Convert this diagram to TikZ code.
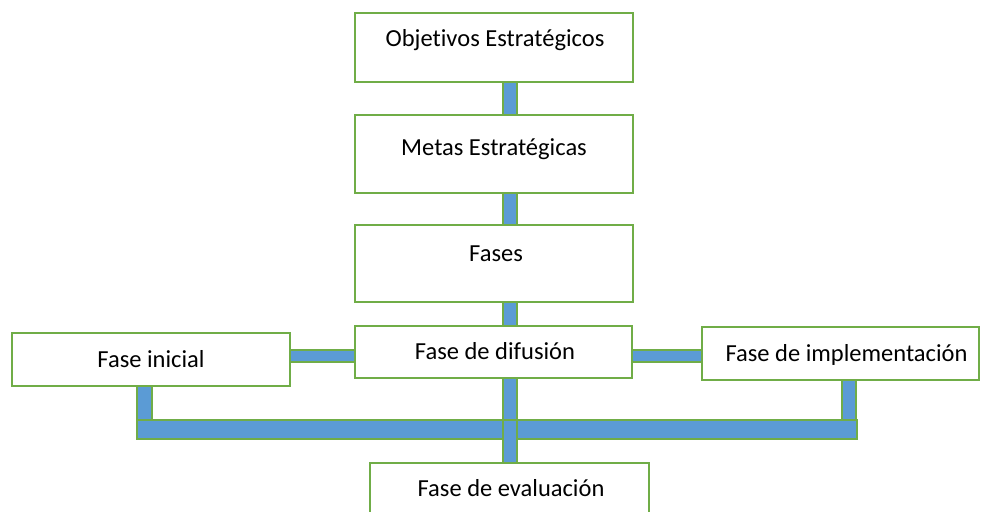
\documentclass[tikz,border=0pt]{standalone}
\usepackage{fontspec}
\setmainfont{Carlito}[Ligatures={NoCommon}]
\definecolor{gbord}{HTML}{70AD47}
\definecolor{bblue}{HTML}{5B9BD5}
\begin{document}
\begin{tikzpicture}[x=1pt,y=1pt,
  box/.style={draw=gbord,line width=2pt,fill=white,rectangle,inner sep=0pt},
  lbl/.style={font=\fontsize{24.5}{28}\selectfont,inner sep=0pt,anchor=base},
  bar/.style={draw=gbord,line width=1.5pt,fill=bblue}]
\useasboundingbox (0,0) rectangle (981,-511);
% connectors (drawn first)
\coordinate (c1a) at (503,-82);  \coordinate (c1b) at (517,-115);
\coordinate (c2a) at (503,-193); \coordinate (c2b) at (517,-225);
\coordinate (c3a) at (503,-302); \coordinate (c3b) at (517,-326);
\coordinate (hia) at (290,-350); \coordinate (hib) at (355,-362);
\coordinate (hpa) at (632,-350); \coordinate (hpb) at (702,-362);
\coordinate (via) at (137,-386); \coordinate (vib) at (152,-421);
\coordinate (vpa) at (842,-380); \coordinate (vpb) at (856,-421);
\coordinate (bba) at (137,-420); \coordinate (bbb) at (857,-439);
\coordinate (vda) at (503,-378); \coordinate (vdb) at (517,-463);
\draw[bar] (c1a) rectangle (c1b);
\draw[bar] (c2a) rectangle (c2b);
\draw[bar] (c3a) rectangle (c3b);
\draw[bar] (hia) rectangle (hib);
\draw[bar] (hpa) rectangle (hpb);
\draw[bar] (via) rectangle (vib);
\draw[bar] (vpa) rectangle (vpb);
\fill[bblue] (vda) rectangle (vdb);
\draw[bar] (bba) rectangle (bbb);
\draw[bar] (vda) rectangle (vdb);
\fill[bblue] ([xshift=0.75pt,yshift=-0.75pt]bba -| vda) rectangle ([xshift=-0.75pt,yshift=0.75pt]bbb -| vdb);
\draw[gbord,line width=1.5pt] (bba -| 503,0) -- (bba -| 517,0);
% boxes
\node[box,minimum width=278pt,minimum height=69pt] (o) at (494,-47.5) {};
\node[box,minimum width=278pt,minimum height=78pt] (m) at (494,-154) {};
\node[box,minimum width=278pt,minimum height=77pt] (f) at (494,-263.5) {};
\node[box,minimum width=277pt,minimum height=52pt] (d) at (493.5,-352) {};
\node[box,minimum width=278pt,minimum height=53pt] (i) at (151,-359.5) {};
\node[box,minimum width=277pt,minimum height=53pt] (p) at (840.5,-353.5) {};
\node[box,minimum width=279pt,minimum height=53pt] (e) at (509.5,-489.5) {};
% labels
\node[lbl] (to) at (495,-47) {Objetivos Estratégicos};
\node[lbl] (tm) at (494,-155) {Metas Estratégicas};
\node[lbl] (tf) at (496,-261.5) {Fases};
\node[lbl] (td) at (495,-359) {Fase de difusión};
\node[lbl] (ti) at (151,-367) {Fase inicial};
\node[lbl] (tp) at (846.5,-361.5) {Fase de implementación};
\node[lbl] (te) at (511,-496.5) {Fase de evaluación};
\end{tikzpicture}
\end{document}
